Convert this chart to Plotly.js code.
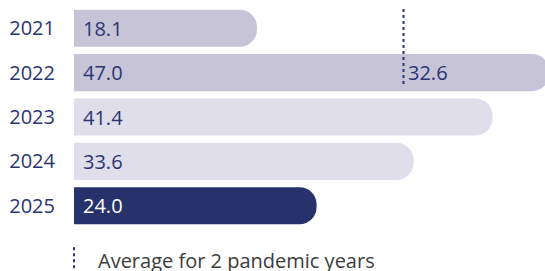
<!DOCTYPE html>
<html>
<head>
<meta charset="utf-8">
<script src="https://cdn.plot.ly/plotly-3.0.1.min.js"></script>
<style>html,body{margin:0;padding:0;background:#fff;}#chart{width:545px;height:271px;}</style>
</head>
<body>
<div id="chart"></div>
<script>
const years = ['2021', '2022', '2023', '2024', '2025'];
const values = [18.1, 47.0, 41.4, 33.6, 24.0];
const barColors = ['#c6c4d6', '#c6c4d6', '#dfdeea', '#dfdeea', '#27316b'];
const labelColors = ['#2b3572', '#2b3572', '#2b3572', '#2b3572', '#ffffff'];
const pandemicAverage = 32.6;
const averageLabel = '32.6';
const legendText = 'Average for 2 pandemic years';

const navy = '#2b3572';
const font = 'Open Sans, sans-serif';
const pos = years.map((_, i) => i);

const valueAnnotations = pos.map((p, i) => ({
  x: 0, y: p, xref: 'x', yref: 'y',
  text: values[i].toFixed(1), showarrow: false,
  xanchor: 'left', yanchor: 'middle', xshift: 7,
  font: {family: font, size: 20, color: labelColors[i]}
}));

const data = [{
  type: 'bar', orientation: 'h',
  y: pos, x: values,
  marker: {color: barColors, line: {width: 0}},
  hoverinfo: 'skip', showlegend: false
}];

const layout = {
  width: 545, height: 271,
  margin: {l: 74, r: 0, t: 6, b: 43},
  paper_bgcolor: '#ffffff', plot_bgcolor: '#ffffff',
  bargap: 0.165,
  barcornerradius: 17,
  xaxis: {range: [0, 46.6], visible: false, fixedrange: true},
  yaxis: {
    range: [4.5, -0.5],
    tickvals: pos, ticktext: years,
    showgrid: false, zeroline: false, showline: false,
    ticks: 'outside', ticklen: 14, tickcolor: 'rgba(0,0,0,0)',
    tickfont: {family: font, size: 20, color: navy}
  },
  shapes: [
    {type: 'line', xref: 'x', yref: 'y', x0: pandemicAverage, x1: pandemicAverage,
     y0: -0.43, y1: 1.31, line: {color: navy, width: 2, dash: 'dot'}},
    {type: 'line', xref: 'paper', yref: 'paper', x0: 0, x1: 0,
     y0: -0.087, y1: -0.2, line: {color: navy, width: 2, dash: 'dot'}}
  ],
  annotations: valueAnnotations.concat([
    {x: pandemicAverage, y: pos[1], xref: 'x', yref: 'y', text: averageLabel,
     showarrow: false, xanchor: 'left', yanchor: 'middle', xshift: 2,
     font: {family: font, size: 20, color: navy}},
    {x: 0, y: -0.155, xref: 'paper', yref: 'paper', text: legendText,
     showarrow: false, xanchor: 'left', yanchor: 'middle', xshift: 22, yshift: 2,
     font: {family: font, size: 20, color: '#3c3c3c'}}
  ])
};

Plotly.newPlot('chart', data, layout, {staticPlot: true, displayModeBar: false});
</script>
</body>
</html>
